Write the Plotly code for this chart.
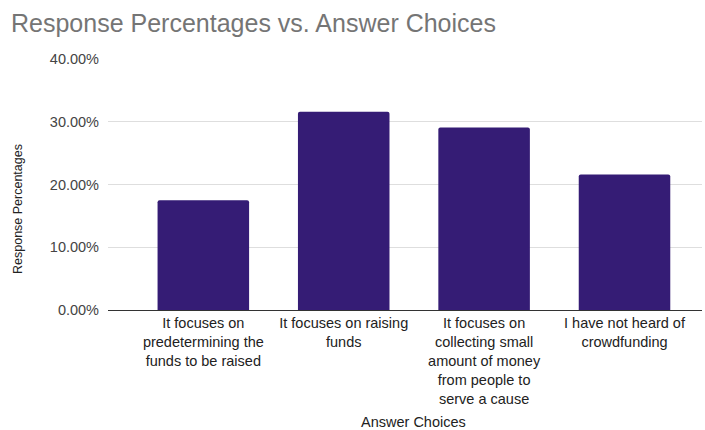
import plotly.graph_objects as go

categories = [
    "It focuses on<br>predetermining the<br>funds to be raised",
    "It focuses on raising<br>funds",
    "It focuses on<br>collecting small<br>amount of money<br>from people to<br>serve a cause",
    "I have not heard of<br>crowdfunding",
]
values = [0.175, 0.316, 0.291, 0.216]
y_ticks = [0, 0.1, 0.2, 0.3, 0.4]
y_tick_labels = ["0.00%", "10.00%", "20.00%", "30.00%", "40.00%"]

fig = go.Figure(
    go.Bar(
        x=categories,
        y=values,
        marker=dict(color="#351c75", line=dict(width=0)),
        width=0.652,
    )
)

font_family = "Liberation Sans, Arial, sans-serif"
W, H = 705, 430

fig.update_layout(
    width=W,
    height=H,
    margin=dict(l=108, r=3, t=59, b=120, autoexpand=False),
    paper_bgcolor="white",
    plot_bgcolor="white",
    barcornerradius=2,
    font=dict(family=font_family, size=14.5, color="#222222"),
    title=dict(
        text="Response Percentages vs. Answer Choices",
        x=11 / W,
        xanchor="left",
        y=1 - 23 / H,
        yanchor="middle",
        font=dict(family=font_family, size=25, color="#757575"),
    ),
    showlegend=False,
    annotations=[
        dict(
            text="Response Percentages",
            xref="paper", yref="paper",
            x=(18 - 108) / (W - 108 - 3),
            y=(H - 120 - 209) / (H - 120 - 59),
            xanchor="center", yanchor="middle",
            textangle=-90,
            showarrow=False,
            font=dict(size=12.5, color="#222222"),
        ),
        dict(
            text="Answer Choices",
            xref="paper", yref="paper",
            x=(413 - 108) / (W - 108 - 3),
            y=-(422 - 310) / (H - 120 - 59),
            xanchor="center", yanchor="middle",
            showarrow=False,
            font=dict(size=14.5, color="#222222"),
        ),
    ],
)

fig.update_yaxes(
    range=[0, 0.4],
    tickvals=y_ticks,
    ticktext=y_tick_labels,
    showgrid=True,
    gridcolor="#dedede",
    gridwidth=1,
    zeroline=False,
    showline=False,
    ticks="",
    ticklabelstandoff=8,
    automargin=False,
    tickfont=dict(size=14.5, color="#444444"),
)

fig.update_xaxes(
    range=[-0.679, 3.552],
    showline=True,
    linecolor="#333333",
    linewidth=1,
    ticks="",
    tickangle=0,
    showgrid=False,
    automargin=False,
    tickfont=dict(size=14.5, color="#222222"),
)

fig.write_html(
    "out.html",
    config={"displayModeBar": False},
    post_script="document.body.style.margin='0px';document.body.style.overflow='hidden';",
)
